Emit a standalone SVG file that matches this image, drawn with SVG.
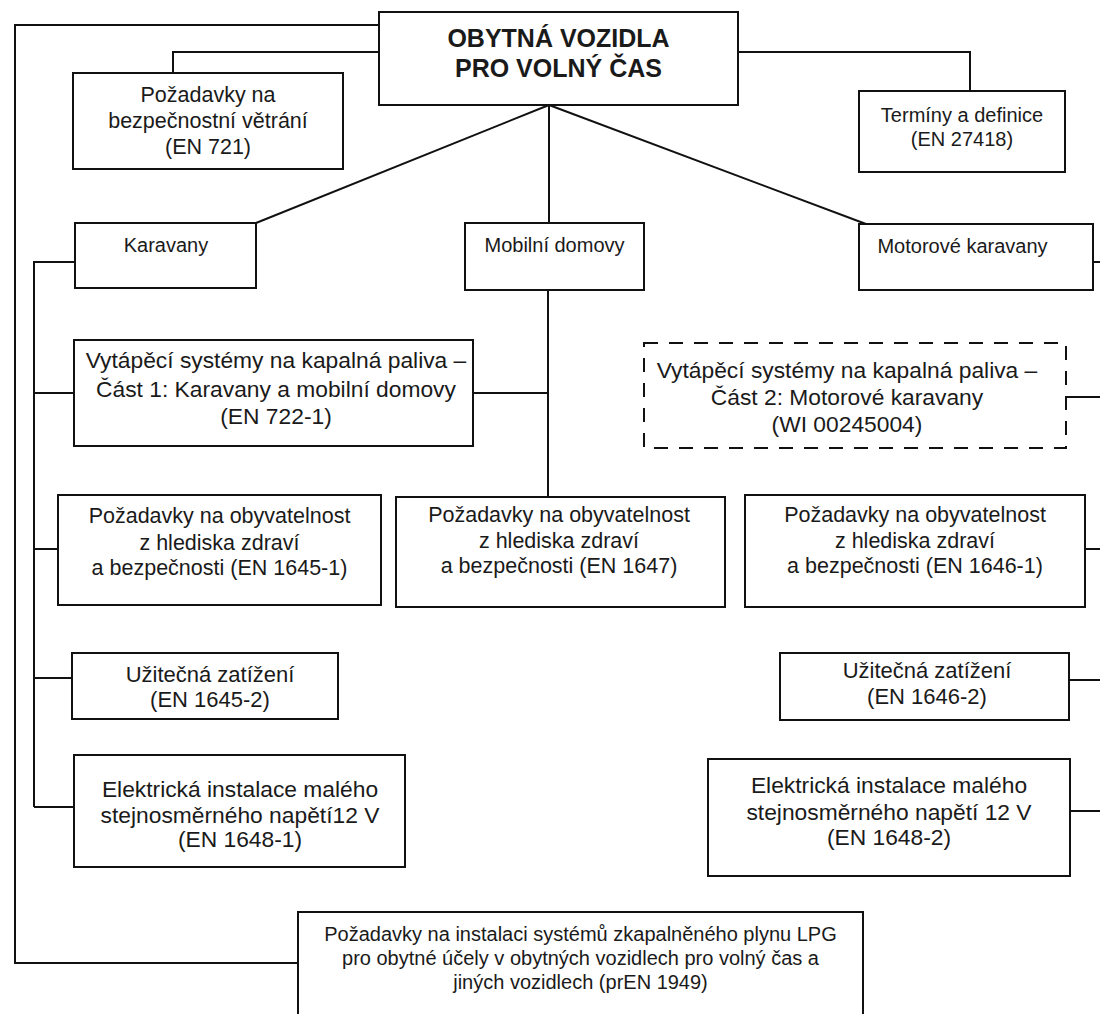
<svg xmlns="http://www.w3.org/2000/svg" width="1100" height="1014" viewBox="0 0 1100 1014">
<style>
  .box { fill: #ffffff; stroke: #111111; stroke-width: 2; }
  .dash { fill: #ffffff; stroke: #111111; stroke-width: 2; stroke-dasharray: 14 11; }
  .ln { fill: none; stroke: #111111; stroke-width: 2; }
  text { font-family: "Liberation Sans", Arial, sans-serif; fill: #1a1a1a; text-anchor: middle; }
  .title { font-size: 25px; font-weight: bold; }
  .s20 { font-size: 20px; }
  .s215 { font-size: 21.5px; }
  .s22 { font-size: 22px; }
  .s23 { font-size: 22.8px; }
</style>
<rect x="0" y="0" width="1100" height="1014" fill="#ffffff"/>

<g id="connectors">
  <path class="ln" d="M379,25 H15 V963 H298"/>
  <path class="ln" d="M379,52 H173 V73"/>
  <path class="ln" d="M738,52 H970 V91"/>
  <path class="ln" d="M549,105 L256,223"/>
  <path class="ln" d="M549,105 V223"/>
  <path class="ln" d="M549,105 L866,224"/>
  <path class="ln" d="M548,290 V497"/>
  <path class="ln" d="M473,393 H548"/>
  <path class="ln" d="M75,262 H34 V807"/>
  <path class="ln" d="M34,393 H74"/>
  <path class="ln" d="M34,549 H58"/>
  <path class="ln" d="M34,678 H72"/>
  <path class="ln" d="M34,807 H74"/>
  <path class="ln" d="M1093,262 H1101"/>
  <path class="ln" d="M1066,397 H1101"/>
  <path class="ln" d="M1085,549 H1101"/>
  <path class="ln" d="M1069,680 H1101"/>
  <path class="ln" d="M1070,811 H1101"/>
</g>

<g id="n-root">
  <rect class="box" x="379" y="12" width="359" height="93"/>
  <text class="title" x="558.5" y="47">OBYTNÁ VOZIDLA</text>
  <text class="title" x="558.5" y="77">PRO VOLNÝ ČAS</text>
</g>

<g id="n-en721">
  <rect class="box" x="73" y="73" width="270" height="96"/>
  <text class="s215" x="208" y="102">Požadavky na</text>
  <text class="s215" x="208" y="128">bezpečnostní větrání</text>
  <text class="s215" x="208" y="154">(EN 721)</text>
</g>

<g id="n-en27418">
  <rect class="box" x="859" y="91" width="206" height="81"/>
  <text class="s20" x="962" y="122">Termíny a definice</text>
  <text class="s20" x="962" y="146">(EN 27418)</text>
</g>

<g id="n-karavany">
  <rect class="box" x="75" y="223" width="181" height="65"/>
  <text class="s20" x="166" y="252">Karavany</text>
</g>

<g id="n-mobilni">
  <rect class="box" x="465" y="223" width="179" height="67"/>
  <text class="s20" x="554.5" y="252">Mobilní domovy</text>
</g>

<g id="n-motorove">
  <rect class="box" x="859" y="224" width="234" height="66"/>
  <text class="s20" x="962.5" y="253">Motorové karavany</text>
</g>

<g id="n-en722-1">
  <rect class="box" x="74" y="340" width="399" height="106"/>
  <text class="s23" x="276" y="368">Vytápěcí systémy na kapalná paliva –</text>
  <text class="s23" x="276" y="397">Část 1: Karavany a mobilní domovy</text>
  <text class="s23" x="276" y="424">(EN 722-1)</text>
</g>

<g id="n-wi00245004">
  <rect class="dash" x="644" y="343" width="422" height="105"/>
  <text class="s23" x="847" y="378">Vytápěcí systémy na kapalná paliva –</text>
  <text class="s23" x="847" y="405">Část 2: Motorové karavany</text>
  <text class="s23" x="847" y="432">(WI 00245004)</text>
</g>

<g id="n-en1645-1">
  <rect class="box" x="58" y="495" width="323" height="110"/>
  <text class="s215" x="219.5" y="523">Požadavky na obyvatelnost</text>
  <text class="s215" x="219.5" y="550">z hlediska zdraví</text>
  <text class="s215" x="219.5" y="575">a bezpečnosti (EN 1645-1)</text>
</g>

<g id="n-en1647">
  <rect class="box" x="396" y="497" width="329" height="110"/>
  <text class="s215" x="559" y="522">Požadavky na obyvatelnost</text>
  <text class="s215" x="559" y="548">z hlediska zdraví</text>
  <text class="s215" x="559" y="573">a bezpečnosti (EN 1647)</text>
</g>

<g id="n-en1646-1">
  <rect class="box" x="745" y="495" width="340" height="112"/>
  <text class="s215" x="915" y="522">Požadavky na obyvatelnost</text>
  <text class="s215" x="915" y="548">z hlediska zdraví</text>
  <text class="s215" x="915" y="573">a bezpečnosti (EN 1646-1)</text>
</g>

<g id="n-en1645-2">
  <rect class="box" x="72" y="653" width="266" height="66"/>
  <text class="s22" x="210" y="682">Užitečná zatížení</text>
  <text class="s22" x="210" y="707">(EN 1645-2)</text>
</g>

<g id="n-en1646-2">
  <rect class="box" x="780" y="653" width="289" height="67"/>
  <text class="s22" x="927" y="678">Užitečná zatížení</text>
  <text class="s22" x="927" y="704">(EN 1646-2)</text>
</g>

<g id="n-en1648-1">
  <rect class="box" x="74" y="755" width="331" height="112"/>
  <text class="s23" x="240" y="797">Elektrická instalace malého</text>
  <text class="s23" x="240" y="823">stejnosměrného napětí12 V</text>
  <text class="s23" x="240" y="847">(EN 1648-1)</text>
</g>

<g id="n-en1648-2">
  <rect class="box" x="708" y="759" width="362" height="117"/>
  <text class="s23" x="889" y="793">Elektrická instalace malého</text>
  <text class="s23" x="889" y="820">stejnosměrného napětí 12 V</text>
  <text class="s23" x="889" y="845">(EN 1648-2)</text>
</g>

<g id="n-pren1949">
  <rect class="box" x="298" y="912" width="565" height="112"/>
  <text class="s20" x="580.5" y="941">Požadavky na instalaci systémů zkapalněného plynu LPG</text>
  <text class="s20" x="580.5" y="965">pro obytné účely v obytných vozidlech pro volný čas a</text>
  <text class="s20" x="580.5" y="989">jiných vozidlech (prEN 1949)</text>
</g>
</svg>
